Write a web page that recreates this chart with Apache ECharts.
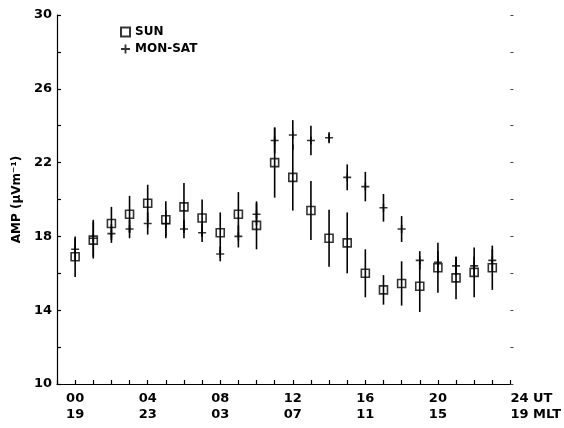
<!DOCTYPE html>
<html>
<head>
<meta charset="utf-8">
<script src="https://cdn.jsdelivr.net/npm/echarts@6/dist/echarts.min.js"></script>
<style>
  html, body { margin: 0; padding: 0; background: #fff; }
  #chart { width: 564px; height: 428px; }
</style>
</head>
<body>
<div id="chart"></div>
<script>
// hourly means (UT hour)
const hours = [0, 1, 2, 3, 4, 5, 6, 7, 8, 9, 10, 11, 12, 13, 14, 15, 16, 17, 18, 19, 20, 21, 22, 23];
const sunAmp = [16.9, 17.8, 18.7, 19.2, 19.8, 18.9, 19.6, 19.0, 18.2, 19.2, 18.6, 22.0, 21.2, 19.4, 17.9, 17.65, 16.0, 15.1, 15.45, 15.3, 16.3, 15.75, 16.05, 16.3];
const sunErr = [1.1, 1.0, 0.9, 1.0, 1.0, 1.0, 1.3, 1.0, 1.1, 1.2, 1.3, 1.9, 1.8, 1.6, 1.55, 1.65, 1.3, 0.8, 1.2, 1.4, 1.35, 1.15, 1.35, 1.2];
const monAmp = [17.3, 17.9, 18.15, 18.4, 18.7, 18.7, 18.4, 18.2, 17.05, 18.0, 19.2, 23.2, 23.5, 23.2, 23.35, 21.2, 20.7, 19.55, 18.4, 16.7, 16.6, 16.4, 16.4, 16.7];
const monErr = [0.6, 1.0, 0.5, 0.5, 0.6, 0.7, 0.5, 0.5, 0.4, 0.6, 0.6, 0.7, 0.8, 0.8, 0.3, 0.7, 0.8, 0.75, 0.7, 0.5, 0.6, 0.5, 0.5, 0.6];

// x tick labels: UT on the first line, MLT on the second
const labelHours = [0, 4, 8, 12, 16, 20, 24];
const utLabels = ['00', '04', '08', '12', '16', '20', '24 UT'];
const mltLabels = ['19', '23', '03', '07', '11', '15', '19 MLT'];

const font = 'DejaVu Sans';
const plusPath = 'path://M0,4H10V6H0Z M4,0H6V10H4Z';

function errBars(vals, errs) {
  return hours.map((h, i) => [h, vals[i] - errs[i], vals[i] + errs[i]]);
}

function renderBar(params, api) {
  const p1 = api.coord([api.value(0), api.value(1)]);
  const p2 = api.coord([api.value(0), api.value(2)]);
  return {
    type: 'line',
    shape: { x1: p1[0], y1: p1[1], x2: p2[0], y2: p2[1] },
    style: { stroke: '#000', lineWidth: 1.6 }
  };
}

const chart = echarts.init(document.getElementById('chart'));
chart.setOption({
  backgroundColor: '#fff',
  animation: false,
  grid: { left: 57, right: 47, top: 15, bottom: 44 },
  legend: {
    orient: 'vertical',
    left: 115,
    top: 21,
    itemWidth: 9,
    itemHeight: 9,
    itemGap: 5,
    textStyle: { fontFamily: font, fontSize: 12, fontWeight: 'bold', color: '#000' },
    data: [
      { name: 'SUN', icon: 'rect' },
      { name: 'MON-SAT', icon: plusPath }
    ]
  },
  xAxis: {
    type: 'value',
    min: -1,
    max: 24,
    interval: 1,
    splitLine: { show: false },
    axisLine: { onZero: false, lineStyle: { color: '#000', width: 1.2 } },
    axisTick: { inside: true, length: 4, lineStyle: { color: '#000', width: 1.2 } },
    axisLabel: {
      margin: 7,
      lineHeight: 16,
      fontFamily: font,
      fontSize: 13,
      fontWeight: 'bold',
      color: '#000',
      alignMaxLabel: 'left',
      formatter: v => {
        const i = labelHours.indexOf(v);
        return i < 0 ? '' : utLabels[i] + '\n' + mltLabels[i];
      }
    }
  },
  yAxis: [{
    type: 'value',
    min: 10,
    max: 30,
    interval: 2,
    name: 'AMP (\u03bcVm\u207b\u00b9)',
    nameLocation: 'middle',
    nameGap: 34,
    nameTextStyle: { fontFamily: font, fontSize: 12, fontWeight: 'bold', color: '#000' },
    splitLine: { show: false },
    axisLine: { show: true, onZero: false, lineStyle: { color: '#000', width: 1.2 } },
    axisTick: { inside: true, length: 4, lineStyle: { color: '#000', width: 1.2 } },
    axisLabel: {
      margin: 5,
      fontFamily: font,
      fontSize: 13,
      fontWeight: 'bold',
      color: '#000',
      formatter: v => ((v - 10) % 4 === 0 ? String(v) : '')
    }
  }, {
    type: 'value',
    position: 'right',
    min: 10,
    max: 30,
    interval: 2,
    splitLine: { show: false },
    axisLine: { show: false, onZero: false },
    axisTick: { show: true, inside: false, length: 3, lineStyle: { color: '#444', width: 1 } },
    axisLabel: { show: false }
  }],
  series: [
    {
      name: 'sunErr',
      type: 'custom',
      renderItem: renderBar,
      data: errBars(sunAmp, sunErr),
      z: 1
    },
    {
      name: 'monErr',
      type: 'custom',
      renderItem: renderBar,
      data: errBars(monAmp, monErr),
      z: 1
    },
    {
      name: 'SUN',
      type: 'scatter',
      symbol: 'rect',
      symbolSize: 8,
      itemStyle: { color: 'rgba(255,255,255,0)', borderColor: '#000', borderWidth: 1.6 },
      data: hours.map((h, i) => [h, sunAmp[i]]),
      z: 3
    },
    {
      name: 'MON-SAT',
      type: 'scatter',
      symbol: plusPath,
      symbolSize: 8,
      itemStyle: { color: '#000' },
      data: hours.map((h, i) => [h, monAmp[i]]),
      z: 3
    }
  ]
});
</script>
</body>
</html>
